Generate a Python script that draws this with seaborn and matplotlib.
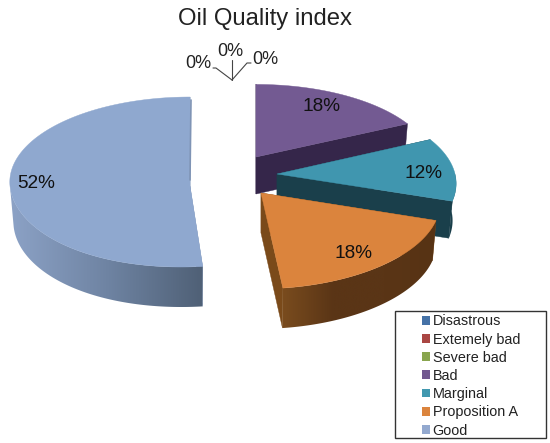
import numpy as np
import matplotlib
matplotlib.use('Agg')
import matplotlib.pyplot as plt
from matplotlib.patches import Polygon, Patch, Rectangle
from matplotlib.colors import LinearSegmentedColormap
import seaborn as sns

# Chart data
categories = ['Disastrous', 'Extemely bad', 'Severe bad', 'Bad', 'Marginal', 'Proposition A', 'Good']
shares = [0, 0, 0, 18, 12, 18, 52]
legend_colors = ['#4572A7', '#AA4643', '#89A54E', '#71588F', '#4198AF', '#DB843D', '#93A9CF']

# Per slice look: apex x, apex y, rx, ry, perspective, skew, depth
slice_shape = {
    'Bad': (256, 157, 176, 82, 0.115, 0, 37),
    'Marginal': (277, 174, 178, 85, 0.115, 0, 37),
    'Proposition A': (261, 193, 178, 86, 0.115, 3, 40),
    'Good': (190, 186, 180, 85, -0.047, 9, 40),
}
top_colors = {'Bad': '#735A92', 'Marginal': '#4096AF', 'Proposition A': '#DB843D', 'Good': '#8FA8CF'}
wall_colors = {
    'Bad': ['#35264A', '#35264A'],
    'Marginal': ['#1A3F4B', '#1A3F4B'],
    'Proposition A': ['#7A4C1E', '#5A3516', '#5A3516', '#573314'],
    'Good': ['#8CA2C6', '#6F84A3', '#4F6076'],
}
cut_colors = {'Bad': '#35264A', 'Marginal': '#1A3F4B', 'Proposition A': '#7A4A1A', 'Good': '#7F94B5'}
label_pos = {'Bad': (321, 106), 'Marginal': (424, 173), 'Proposition A': (354, 253), 'Good': (36, 184)}
SHRINK = 0.98

sns.set_theme(style='white')
plt.rcParams['font.family'] = ['Liberation Sans', 'DejaVu Sans']

fig = plt.figure(figsize=(5.5, 4.43), dpi=100)
ax = fig.add_axes([0, 0, 1, 1])
ax.axis('off')


def rim(name, theta):
    x0, y0, rx, ry, k, skew, depth = slice_shape[name]
    s = 1 - k * np.sin(theta)
    x = x0 + rx * np.cos(theta) * s - skew * np.minimum(np.sin(theta), 0) ** 2
    y = y0 - ry * np.sin(theta) * s
    return x, y


def lowered(name, x, y):
    x0, y0 = slice_shape[name][:2]
    return x0 + (x - x0) * SHRINK, y + slice_shape[name][6]


# Angles run clockwise from the top
ends = 90 - np.cumsum(shares) * 3.6
starts = ends + np.array(shares) * 3.6

for name, share, a0, a1 in zip(categories, shares, starts, ends):
    if share == 0:
        continue
    theta = np.radians(np.linspace(a0, a1, 200))
    x, y = rim(name, theta)
    xb, yb = lowered(name, x, y)
    apex = slice_shape[name][:2]
    apexb = lowered(name, float(apex[0]), float(apex[1]))

    # cut faces
    for i in (0, -1):
        ax.add_patch(Polygon([apex, (x[i], y[i]), (xb[i], yb[i]), apexb],
                             closed=True, fc=cut_colors[name], ec=cut_colors[name], lw=0.3, zorder=1))
    # outer wall, only the part turned to the viewer, shaded left to right
    front = np.sin(theta) <= 0.02
    if front.any():
        outline = np.vstack([np.column_stack([x[front], y[front]]),
                             np.column_stack([xb[front], yb[front]])[::-1]])
        wall = Polygon(outline, closed=True, fc='none', ec='none', zorder=1)
        ax.add_patch(wall)
        cmap = LinearSegmentedColormap.from_list(name, wall_colors[name])
        ramp = np.linspace(0, 1, 256).reshape(1, -1)
        img = ax.imshow(ramp, cmap=cmap, aspect='auto', zorder=1, interpolation='bilinear',
                        extent=(outline[:, 0].min(), outline[:, 0].max(), outline[:, 1].max(), outline[:, 1].min()))
        img.set_clip_path(wall)
    # top
    ax.add_patch(Polygon(np.vstack([apex, np.column_stack([x, y])]), closed=True,
                         fc=top_colors[name], ec=top_colors[name], lw=0.3, zorder=1))
    ax.text(*label_pos[name], f'{share}%', fontsize=13.7, color='#111111', ha='center', va='center', zorder=5)

# Thin inner edge of the big slice
ax.plot([191, 190], [100, 180], color='#7F94B5', lw=1.2, zorder=1)

# Labels of the empty slices
hub = (232, 80)
ax.plot([hub[0], 216, 213], [hub[1], 68, 68], color='#444444', lw=0.8)
ax.plot([hub[0], hub[0]], [hub[1], 60], color='#444444', lw=0.8)
ax.plot([hub[0], 247, 251], [hub[1], 63, 63], color='#444444', lw=0.8)
for pos, share in zip([(198, 63), (230, 51), (265, 59)], shares[:3]):
    ax.text(*pos, f'{share}%', fontsize=13, color='#222222', ha='center', va='center')

ax.text(265.5, 19, 'Oil Quality index', fontsize=17.2, color='#222222', ha='center', va='center')

ax.set_xlim(0, 550)
ax.set_ylim(443, 0)

# Legend
ax.add_patch(Rectangle((395, 311), 151, 127, fc='white', ec='#333333', lw=1.0, zorder=6))
handles = [Patch(fc=c, ec='none') for c in legend_colors]
leg = ax.legend(handles, categories, loc='upper left', bbox_to_anchor=(419 / 550, 1 - 311.5 / 443),
                frameon=False, fontsize=10.4, labelcolor='#222222', handlelength=0.55, handleheight=0.55,
                handletextpad=0.2, labelspacing=0.29, borderpad=0.2, borderaxespad=0)
leg.set_zorder(7)

fig.savefig('out.png', dpi=100)
